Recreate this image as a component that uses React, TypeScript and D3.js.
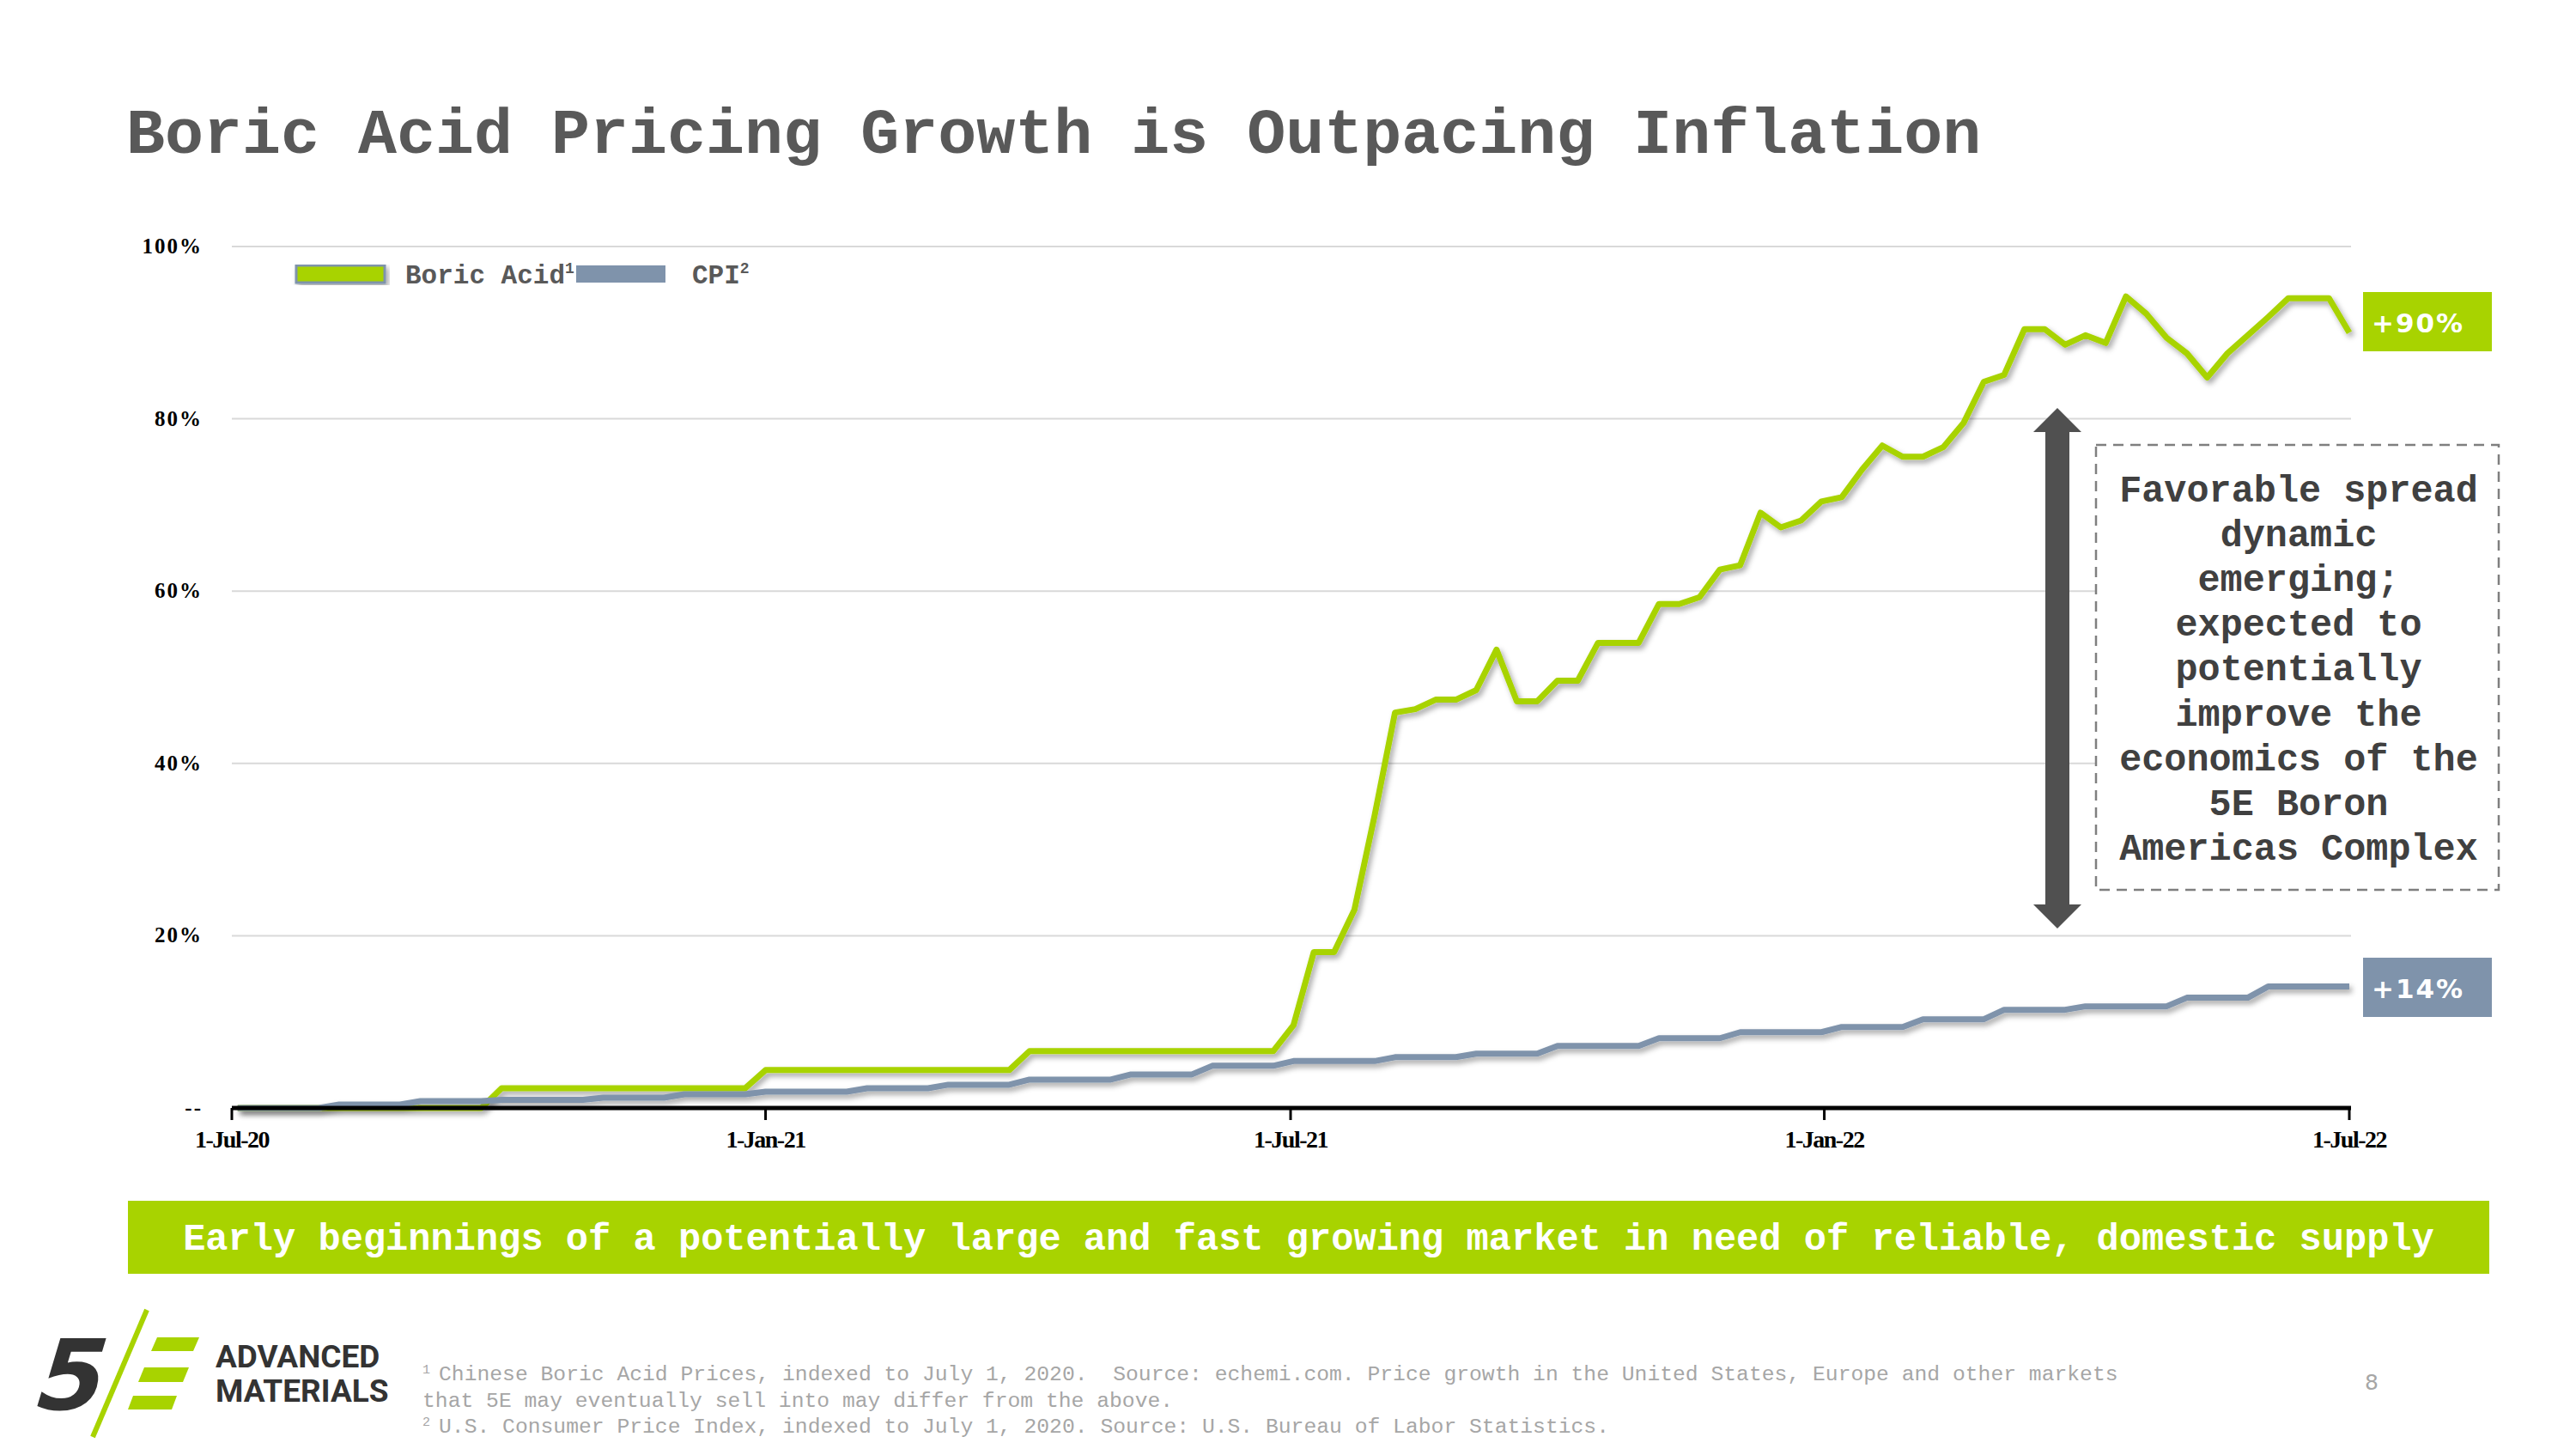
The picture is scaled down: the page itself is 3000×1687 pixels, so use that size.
import React from 'react';
import * as d3 from 'd3';

// Weekly observations (Fridays), starting 3-Jul-2020
const START_DATE = new Date(2020, 6, 3);
const DOMAIN_START = new Date(2020, 6, 1);
const DOMAIN_END = new Date(2022, 6, 1);

const boricAcid = [
  0, 0, 0, 0, 0, 0, 0, 0, 0, 0, 0, 0, 0,
  2.3, 2.3, 2.3, 2.3, 2.3, 2.3, 2.3, 2.3, 2.3, 2.3, 2.3, 2.3, 2.3,
  4.4, 4.4, 4.4, 4.4, 4.4, 4.4, 4.4, 4.4, 4.4, 4.4, 4.4, 4.4, 4.4,
  6.6, 6.6, 6.6, 6.6, 6.6, 6.6, 6.6, 6.6, 6.6, 6.6, 6.6, 6.6, 6.6,
  9.6, 18.1, 18.1, 23.0, 34.0, 45.9, 46.3, 47.4, 47.4, 48.5, 53.2, 47.2, 47.2,
  49.6, 49.6, 54.0, 54.0, 54.0, 58.5, 58.5, 59.3, 62.5, 63.0, 69.1, 67.4, 68.2,
  70.4, 70.9, 74.1, 76.9, 75.6, 75.6, 76.7, 79.5, 84.3, 85.1, 90.4, 90.4, 88.6,
  89.7, 88.8, 94.2, 92.2, 89.4, 87.6, 84.8, 87.6, 89.7, 91.8, 94.0, 94.0, 94.0, 90.0,
];

const cpi = [
  0, 0, 0, 0, 0,
  0.4, 0.4, 0.4, 0.4,
  0.8, 0.8, 0.8, 0.8,
  0.95, 0.95, 0.95, 0.95, 0.95,
  1.2, 1.2, 1.2, 1.2,
  1.6, 1.6, 1.6, 1.6,
  1.9, 1.9, 1.9, 1.9, 1.9,
  2.3, 2.3, 2.3, 2.3,
  2.7, 2.7, 2.7, 2.7,
  3.3, 3.3, 3.3, 3.3, 3.3,
  3.9, 3.9, 3.9, 3.9,
  4.9, 4.9, 4.9, 4.9,
  5.45, 5.45, 5.45, 5.45, 5.45,
  5.9, 5.9, 5.9, 5.9,
  6.3, 6.3, 6.3, 6.3,
  7.2, 7.2, 7.2, 7.2, 7.2,
  8.1, 8.1, 8.1, 8.1,
  8.8, 8.8, 8.8, 8.8, 8.8,
  9.4, 9.4, 9.4, 9.4,
  10.3, 10.3, 10.3, 10.3,
  11.4, 11.4, 11.4, 11.4,
  11.8, 11.8, 11.8, 11.8, 11.8,
  12.8, 12.8, 12.8, 12.8,
  14.1, 14.1, 14.1, 14.1, 14.1,
];

const yTicks = [0, 20, 40, 60, 80, 100];
const yTickLabels = ['--', '20%', '40%', '60%', '80%', '100%'];
const xTickDates = [
  new Date(2020, 6, 1),
  new Date(2021, 0, 1),
  new Date(2021, 6, 1),
  new Date(2022, 0, 1),
  new Date(2022, 6, 1),
];
const xTickLabels = ['1-Jul-20', '1-Jan-21', '1-Jul-21', '1-Jan-22', '1-Jul-22'];

const seriesNames = ['Boric Acid', 'CPI'];
const endLabels = ['+90%', '+14%'];

const title = 'Boric Acid Pricing Growth is Outpacing Inflation';
const calloutLines = [
  'Favorable spread',
  'dynamic',
  'emerging;',
  'expected to',
  'potentially',
  'improve the',
  'economics of the',
  '5E Boron',
  'Americas Complex',
];
const bannerText =
  'Early beginnings of a potentially large and fast growing market in need of reliable, domestic supply';
const footnotes = [
  { sup: '1', text: 'Chinese Boric Acid Prices, indexed to July 1, 2020.  Source: echemi.com. Price growth in the United States, Europe and other markets' },
  { sup: '', text: 'that 5E may eventually sell into may differ from the above.' },
  { sup: '2', text: 'U.S. Consumer Price Index, indexed to July 1, 2020. Source: U.S. Bureau of Labor Statistics.' },
];

const GREEN = '#A8D300';
const SLATE = '#7F93AB';
const MONO = '"Courier New", Courier, "Nimbus Mono PS", FreeMono, "Liberation Mono", monospace';
const SERIF = '"Liberation Serif", "Times New Roman", serif';

export default function App() {
  const W = 3000;
  const H = 1687;
  const x = d3.scaleTime().domain([DOMAIN_START, DOMAIN_END]).range([270, 2736]);
  const y = d3.scaleLinear().domain([0, 100]).range([1290, 287]);

  const dateAt = (i: number) => d3.timeDay.offset(START_DATE, i * 7);
  const line = d3
    .line<number>()
    .x((_, i) => x(dateAt(i)))
    .y((v) => y(v))
    .curve(d3.curveLinear);

  const gridX0 = 270;
  const gridX1 = 2738;

  return (
    <div style={{ position: 'absolute', left: 0, top: 0 }}>
      <svg width={W} height={H} viewBox={`0 0 ${W} ${H}`} style={{ display: 'block', background: '#fff' }}>
        <defs>
          <filter id="shadow" x="-5%" y="-5%" width="110%" height="120%">
            <feDropShadow dx="3" dy="4" stdDeviation="3" floodColor="#000" floodOpacity="0.35" />
          </filter>
        </defs>
        <rect x={0} y={0} width={W} height={H} fill="#fff" />

        {/* Title */}
        <text x={147} y={178} fontFamily={MONO} fontWeight="bold" fontSize={75} fill="#595959">
          {title}
        </text>

        {/* Gridlines */}
        {yTicks.filter((t) => t > 0).map((t) => (
          <line key={t} x1={gridX0} x2={gridX1} y1={y(t)} y2={y(t)} stroke="#D9D9D9" strokeWidth={2} />
        ))}

        {/* Y tick labels */}
        {yTicks.map((t, i) => (
          <text
            key={t}
            x={236}
            y={y(t) + 8}
            textAnchor="end"
            fontFamily={SERIF}
            fontWeight="bold"
            fontSize={25}
            letterSpacing={2}
            fill="#000"
          >
            {yTickLabels[i]}
          </text>
        ))}

        {/* Lines */}
        <path d={line(boricAcid) || ''} fill="none" stroke={GREEN} strokeWidth={7} strokeLinejoin="round" filter="url(#shadow)" />
        <path d={line(cpi) || ''} fill="none" stroke={SLATE} strokeWidth={7} strokeLinejoin="round" filter="url(#shadow)" />

        {/* X axis */}
        <line x1={gridX0} x2={gridX1} y1={y(0)} y2={y(0)} stroke="#000" strokeWidth={5} />
        {xTickDates.map((d, i) => (
          <g key={i}>
            <line x1={x(d)} x2={x(d)} y1={y(0)} y2={y(0) + 14} stroke="#000" strokeWidth={3} />
            <text
              x={x(d)}
              y={1336}
              textAnchor="middle"
              fontFamily={SERIF}
              fontWeight="bold"
              fontSize={28}
              letterSpacing={-1.5}
              fill="#000"
            >
              {xTickLabels[i]}
            </text>
          </g>
        ))}

        {/* Legend */}
        <rect x={345} y={309} width={103} height={20} fill={GREEN} stroke={SLATE} strokeWidth={3} filter="url(#shadow)" />
        <text x={472} y={330} fontFamily={MONO} fontWeight="bold" fontSize={31} fill="#595959">
          {seriesNames[0]}
          <tspan fontSize={18} dy={-12}>1</tspan>
        </text>
        <rect x={671} y={309} width={104} height={20} fill={SLATE} />
        <text x={806} y={330} fontFamily={MONO} fontWeight="bold" fontSize={31} fill="#595959">
          {seriesNames[1]}
          <tspan fontSize={18} dy={-12}>2</tspan>
        </text>

        {/* End labels */}
        <rect x={2752} y={340} width={150} height={69} fill={GREEN} />
        <text x={2762} y={387} fontFamily='"DejaVu Sans", sans-serif' fontWeight="bold" fontSize={31} letterSpacing={2} fill="#fff">
          {endLabels[0]}
        </text>
        <rect x={2752} y={1115} width={150} height={69} fill={SLATE} />
        <text x={2762} y={1162} fontFamily='"DejaVu Sans", sans-serif' fontWeight="bold" fontSize={31} letterSpacing={2} fill="#fff">
          {endLabels[1]}
        </text>

        {/* Double arrow */}
        <path
          d={`M2396,475 L2424,503 L2410,503 L2410,1053 L2424,1053 L2396,1081 L2368,1053 L2382,1053 L2382,503 L2368,503 Z`}
          fill="#505050"
        />

        {/* Callout box */}
        <rect x={2441} y={518} width={469} height={518} fill="#fff" stroke="#7F7F7F" strokeWidth={2.5} strokeDasharray="12 8" />
        {calloutLines.map((t, i) => (
          <text
            key={i}
            x={2677}
            y={584 + i * 52.1}
            textAnchor="middle"
            fontFamily={MONO}
            fontWeight="bold"
            fontSize={43.5}
            fill="#404040"
          >
            {t}
          </text>
        ))}

        {/* Banner */}
        <rect x={149} y={1398} width={2750} height={85} fill={GREEN} />
        <text
          x={1524}
          y={1455}
          textAnchor="middle"
          fontFamily={MONO}
          fontWeight="bold"
          fontSize={43.7}
          fill="#fff"
        >
          {bannerText}
        </text>

        {/* Logo */}
        <text x={44} y={1641} fontFamily='"DejaVu Sans", sans-serif' fontWeight="bold" fontStyle="italic" fontSize={114} fill="#333333" transform="skewX(-6) translate(170,0)">
          5
        </text>
        <line x1={171} y1={1525} x2={108} y2={1673} stroke={GREEN} strokeWidth={6} />
        <polygon points="183,1557 232,1557 225,1573 176,1573" fill={GREEN} />
        <polygon points="168,1592 220,1592 213,1609 161,1609" fill={GREEN} />
        <polygon points="155,1625 206,1625 200,1641 149,1641" fill={GREEN} />
        <text x={251} y={1592} fontFamily="Roboto, sans-serif" fontWeight="bold" fontSize={37} fill="#333333">
          ADVANCED
        </text>
        <text x={251} y={1632} fontFamily="Roboto, sans-serif" fontWeight="bold" fontSize={37} fill="#333333">
          MATERIALS
        </text>

        {/* Footnotes */}
        {footnotes.map((f, i) => (
          <text key={i} x={492} y={1607 + i * 30.5} fontFamily={MONO} fontSize={24.7} fill="#A6A6A6" style={{ whiteSpace: 'pre' }}>
            {f.sup ? <tspan fontSize={15} dy={-8}>{f.sup}</tspan> : null}
            <tspan x={f.sup ? 511 : 492} dy={f.sup ? 8 : 0}>{f.text}</tspan>
          </text>
        ))}
        {/* Page number */}
        <text x={2762} y={1618} textAnchor="middle" fontFamily='"DejaVu Sans", sans-serif' fontSize={25} fill="#A6A6A6">
          8
        </text>
      </svg>
    </div>
  );
}
